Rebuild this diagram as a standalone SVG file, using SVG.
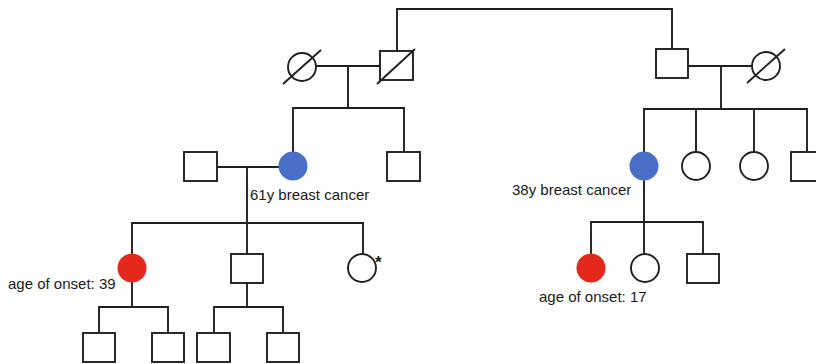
<svg xmlns="http://www.w3.org/2000/svg" width="816" height="364" viewBox="0 0 816 364">
<style>
.s{fill:#fff;stroke:#231f20;stroke-width:1.9}
.l{fill:none;stroke:#231f20;stroke-width:1.9}
.b{fill:#4a6fc8}
.r{fill:#e5281c}
.t{font-family:"Liberation Sans",Arial,sans-serif;font-size:15px;fill:#1a1a1a}
</style>
<rect width="816" height="364" fill="#fff"/>
<g id="connectors" class="l">
<path d="M397,51 V9 H672 V49"/>
<path d="M316,66 H380 M348,66 V108 M293,152 V108 H404 V152"/>
<path d="M688,66 H752 M721,66 V109 M644,152 V109 H807 V152 M696,109 V152 M754,109 V152"/>
<path d="M217,167 H279 M247,167 V223 M132,254 V223 H363 V254 M247,223 V254"/>
<path d="M132,282 V307 M99,333 V307 H168 V333"/>
<path d="M247,283 V307 M214,333 V307 H283 V333"/>
<path d="M644,180 V222 M591,254 V222 H703 V254 M644,222 V254"/>
</g>
<g id="grandmother-left"><circle class="s" cx="302" cy="67" r="14"/><line class="l" x1="283" y1="84" x2="321" y2="50"/></g>
<g id="grandfather-left"><rect class="s" x="380" y="51" width="33" height="29"/><line class="l" x1="377" y1="84" x2="415" y2="49"/></g>
<g id="grandfather-right"><rect class="s" x="656" y="49" width="32" height="29"/></g>
<g id="grandmother-right"><circle class="s" cx="766" cy="66" r="14"/><line class="l" x1="747" y1="83" x2="785" y2="49"/></g>
<g id="spouse-left"><rect class="s" x="184" y="152" width="33" height="29"/></g>
<g id="mother-left"><circle class="b" cx="293" cy="166" r="14.5"/><text class="t" x="250" y="200">61y breast cancer</text></g>
<g id="uncle-left"><rect class="s" x="387" y="152" width="33" height="29"/></g>
<g id="mother-right"><circle class="b" cx="644" cy="166" r="14.5"/><text class="t" x="512" y="195">38y breast cancer</text></g>
<g id="aunt-right-1"><circle class="s" cx="696" cy="166" r="14"/></g>
<g id="aunt-right-2"><circle class="s" cx="754" cy="166" r="14"/></g>
<g id="uncle-right"><rect class="s" x="791" y="152" width="33" height="29"/></g>
<g id="proband-left"><circle class="r" cx="132" cy="268" r="14.5"/><text class="t" x="8" y="289">age of onset: 39</text></g>
<g id="brother-left"><rect class="s" x="231" y="254" width="32" height="29"/></g>
<g id="sister-left"><circle class="s" cx="362" cy="268" r="14"/><text class="t" x="375" y="268" style="font-size:17px;font-weight:bold">*</text></g>
<g id="gc1"><rect class="s" x="83" y="333" width="32" height="29"/></g>
<g id="gc2"><rect class="s" x="152" y="333" width="32" height="29"/></g>
<g id="gc3"><rect class="s" x="197" y="333" width="33" height="29"/></g>
<g id="gc4"><rect class="s" x="267" y="333" width="32" height="29"/></g>
<g id="proband-right"><circle class="r" cx="591" cy="268" r="14.5"/><text class="t" x="539" y="302">age of onset: 17</text></g>
<g id="sister-right"><circle class="s" cx="645" cy="268" r="14"/></g>
<g id="brother-right"><rect class="s" x="687" y="254" width="32" height="29"/></g>
</svg>
